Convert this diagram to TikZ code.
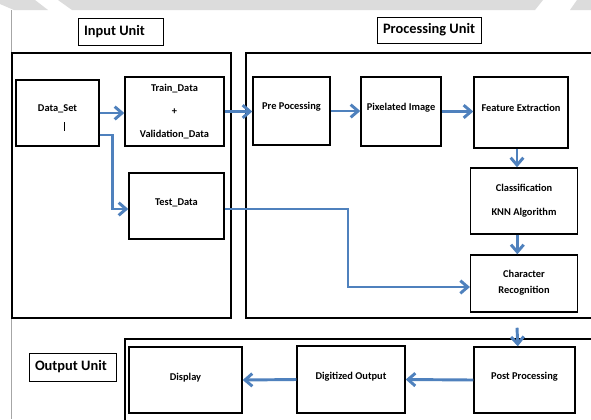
\documentclass[tikz,border=0pt]{standalone}
\usepackage{fontspec}
\setmainfont{Carlito}
\usepackage{tikz}
\usetikzlibrary{arrows.meta,calc,positioning}
\definecolor{ocrblue}{RGB}{79,129,189}
\definecolor{ocrgray}{RGB}{220,220,220}
\newcommand{\ocrtitle}[2]{\makebox[#1][l]{#2}}
\tikzset{
  every picture/.append style={line join=miter},
  ocr size/.style 2 args={minimum width=#1*0.75pt,minimum height=#2*0.75pt},
  ocr frame/.style={draw=black,line width=1.5pt,inner sep=0pt},
  ocr box/.style={draw=black,line width=1.1pt,inner sep=0pt,align=center,
    font=\bfseries\fontsize{7.8}{17}\selectfont},
  ocr title/.style={draw=black,line width=0.7pt,inner ysep=0pt,inner xsep=4.5pt,
    font=\bfseries\fontsize{10.8}{12}\selectfont},
  ocr flow/.style={ocrblue,line width=2.2pt,-{Straight Barb[length=5.5pt,width=9.5pt]}}
}
\begin{document}
\begin{tikzpicture}[x=0.75pt,y=-0.75pt]
\useasboundingbox[fill=white] (0,0) rectangle (591,419);
\fill[ocrgray] (0,0) -- (35,0) -- (48,10) -- (14,10) -- (0,4) -- cycle;
\fill[ocrgray] (58,0) -- (543,0) -- (535,10) -- (72,10) -- cycle;
\fill[ocrgray] (577,0) -- (591,0) -- (591,10) -- (570,10) -- cycle;
\draw[black!35,line width=0.6pt] (11,10) -- (11,419);

\node[ocr frame,ocr size={219}{265}] (inframe) at (121.5,185.5) {};
\node[ocr frame,ocr size={360}{265}] (procframe) at (426,185.5) {};
\node[ocr frame,ocr size={485}{91}] (outframe) at (367.5,384.5) {};

\node[ocr title,minimum height=20.25pt] (inlbl) at (120.5,31.5) {\ocrtitle{54.75pt}{Input Unit}};
\node[ocr title,minimum height=19.5pt] (proclbl) at (429,30) {\ocrtitle{69pt}{Processing Unit}};
\node[ocr title,minimum height=21pt] (outlbl) at (72.5,367) {\ocrtitle{56.25pt}{Output Unit}};

\node[ocr box,ocr size={83}{66}] (dataset) at (57.5,113) {\raisebox{7pt}{Data\_Set}};
\draw[line width=0.6pt] ([shift={(6.5,9)}]dataset.center) -- ++(0,9);
\node[ocr box,ocr size={99}{69}] (train) at (174.5,111.5) {Train\_Data\\+\\Validation\_Data};
\node[ocr box,ocr size={95}{66}] (test) at (176.5,206) {\raisebox{6pt}{Test\_Data}};

\node[ocr box,ocr size={77}{68}] (pre) at (291.5,111) {\raisebox{7pt}{Pre Pocessing}};
\node[ocr box,ocr size={80}{69}] (pix) at (401,111.5) {\raisebox{7pt}{Pixelated Image}};
\node[ocr box,ocr size={94}{71}] (feat) at (521,112.5) {\raisebox{7pt}{Feature Extraction}};
\node[ocr box,ocr size={102}{66}] (cls) at (524,201) {\raisebox{10pt}{\parbox{80pt}{\centering Classification\\[1pt]KNN Algorithm}}};
\node[ocr box,ocr size={102}{57}] (chr) at (524,283.5) {\raisebox{8pt}{\parbox{80pt}{\centering\baselineskip=12pt Character\\Recognition}}};

\node[ocr box,ocr size={101}{66}] (post) at (524.5,380) {\raisebox{6pt}{Post Processing}};
\node[ocr box,ocr size={108}{67}] (dig) at (351,379.5) {\raisebox{6pt}{Digitized Output}};
\node[ocr box,ocr size={113}{66}] (disp) at (185.5,380) {\raisebox{5pt}{Display}};

\coordinate (bend) at (348,287);
\draw[ocr flow] (dataset.east) -- (dataset.east -| train.west);
\draw[ocr flow] (train.east) -- (train.east -| pre.west);
\draw[ocr flow] ([shift={(0,22)}]dataset.east) -| ([shift={(-16,3)}]test.west) -- ([shift={(0,3)}]test.west);
\draw[ocr flow] ([shift={(0,3)}]test.east) -| (bend) -- (bend -| chr.west);
\draw[ocr flow] (pre.east) -- (pre.east -| pix.west);
\draw[ocr flow] (pix.east) -- (pix.east -| feat.west);
\draw[ocr flow] ([xshift=-3pt]feat.south) -- ([xshift=-3pt]feat.south |- cls.north);
\draw[ocr flow] ([xshift=-5pt]cls.south) -- ([xshift=-5pt]chr.north);
\draw[ocr flow] ([shift={(-7,15)}]chr.south) -- ([xshift=-5pt]post.north);
\draw[ocr flow] (post.west) -- (dig.east);
\draw[ocr flow] (dig.west) -- (disp.east);
\end{tikzpicture}
\end{document}
